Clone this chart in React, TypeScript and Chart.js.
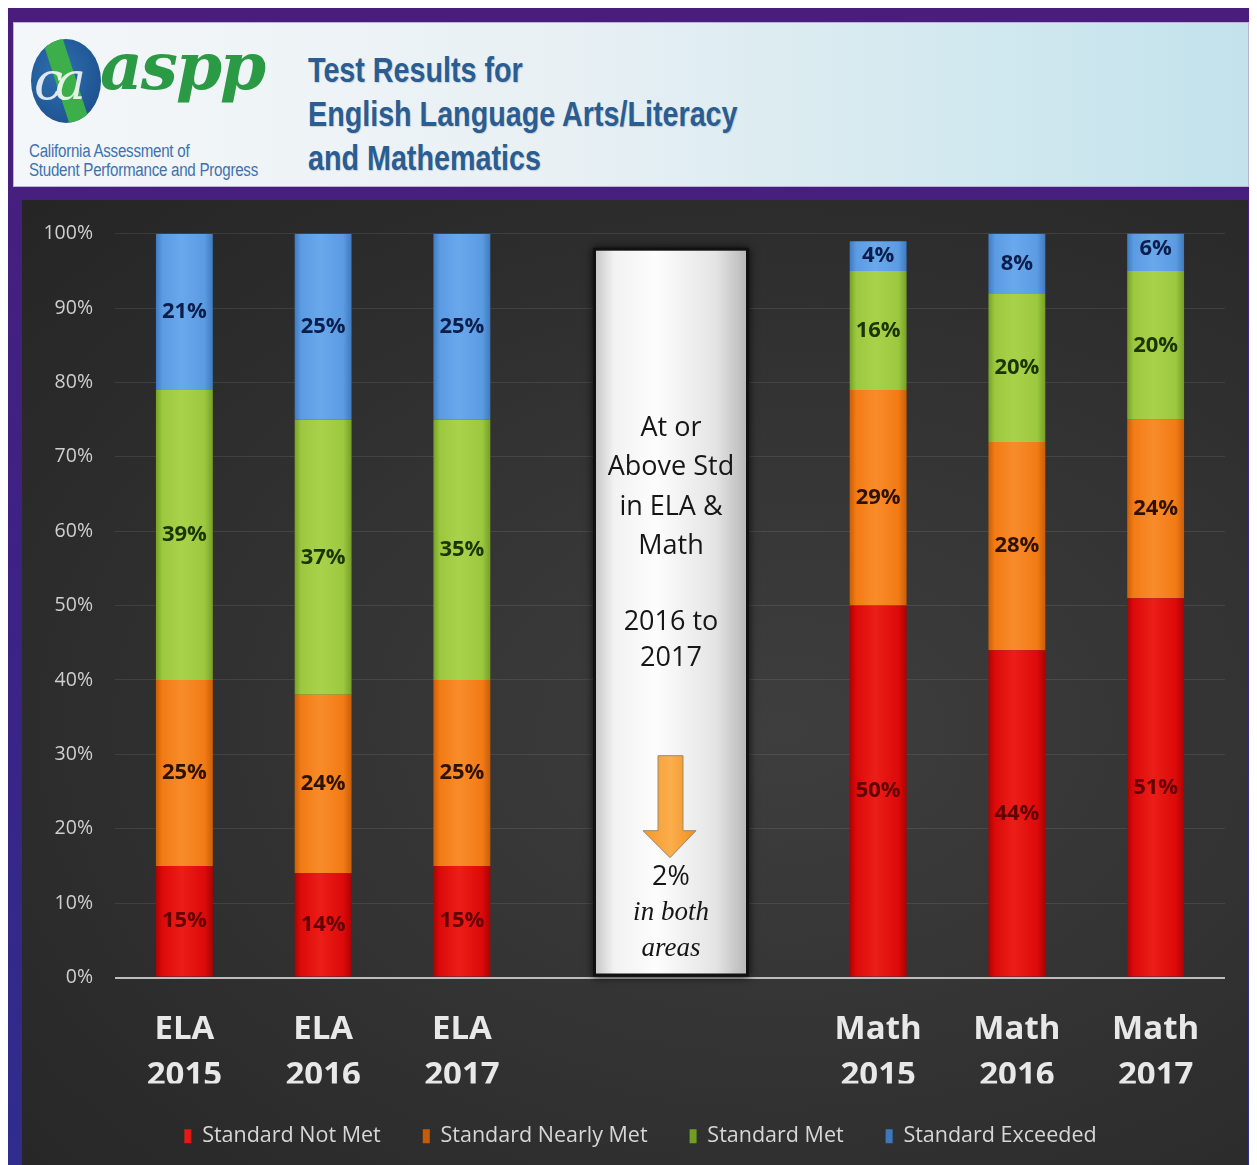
import React, { useEffect, useRef } from 'react';
import { Chart, registerables } from 'chart.js';

Chart.register(...registerables);

// ---------- data ----------
const categories: (string | string[])[] = [
  ['ELA', '2015'], ['ELA', '2016'], ['ELA', '2017'], '', '',
  ['Math', '2015'], ['Math', '2016'], ['Math', '2017'],
];
const seriesNames = ['Standard Not Met', 'Standard Nearly Met', 'Standard Met', 'Standard Exceeded'];
const notMet = [15, 14, 15, null, null, 50, 44, 51];
const nearlyMet = [25, 24, 25, null, null, 29, 28, 24];
const met = [39, 37, 35, null, null, 16, 20, 20];
const exceeded = [21, 25, 25, null, null, 4, 8, 6];
const yTickValues = [0, 10, 20, 30, 40, 50, 60, 70, 80, 90, 100];

const titleLines = ['Test Results for', 'English Language Arts/Literacy', 'and Mathematics'];
const logoSubtitle = ['California Assessment of', 'Student Performance and Progress'];
const calloutLines = ['At or', 'Above Std', 'in ELA &', 'Math'];
const calloutYears = ['2016 to', '2017'];
const calloutChange = '2%';
const calloutNote = ['in both', 'areas'];

// ---------- styles ----------
const baseColors = ['#dc0a0a', '#f27b15', '#9cc83f', '#5b9be2'];
const darkColors = ['#a80202', '#c85c06', '#739e25', '#3d78bc'];
const lightColors = ['#ec1e18', '#f88c2a', '#a8d24a', '#6aa8ec'];
const labelColors = ['#620000', '#2e1200', '#1c3400', '#0b1d4a'];

function barFill(i: number) {
  return (c: any) => {
    const base = baseColors[i];
    if (c.type !== 'data') return base;
    const chart = c.chart;
    const xs = chart.scales && chart.scales.x;
    if (!xs || !chart.chartArea) return base;
    const x = xs.getPixelForValue(c.dataIndex);
    const half = 29;
    const g = chart.ctx.createLinearGradient(x - half, 0, x + half, 0);
    g.addColorStop(0, darkColors[i]);
    g.addColorStop(0.12, base);
    g.addColorStop(0.45, lightColors[i]);
    g.addColorStop(0.85, base);
    g.addColorStop(1, darkColors[i]);
    return g;
  };
}

// let the y tick labels use the free space left of the axis box
const yLabelRoomPlugin = {
  id: 'yLabelRoom',
  afterLayout(chart: any) {
    const ys = chart.scales.y;
    if (ys) {
      ys.left = 0;
      ys.width = ys.right;
    }
  },
};

const valueLabelPlugin = {
  id: 'valueLabels',
  afterDatasetsDraw(chart: any) {
    const ctx = chart.ctx;
    ctx.save();
    ctx.font = 'bold 22px "Open Sans", sans-serif';
    ctx.textAlign = 'center';
    ctx.textBaseline = 'middle';
    chart.data.datasets.forEach((ds: any, i: number) => {
      const meta = chart.getDatasetMeta(i);
      if (meta.hidden) return;
      meta.data.forEach((bar: any, j: number) => {
        const v = ds.data[j];
        if (v == null) return;
        const p = bar.getProps(['x', 'y', 'base'], true);
        ctx.fillStyle = labelColors[i];
        ctx.fillText(v + '%', p.x, (p.y + p.base) / 2);
      });
    });
    ctx.restore();
  },
};

const calloutPlugin = {
  id: 'callout',
  beforeDatasetsDraw(chart: any) {
    const ctx = chart.ctx;
    const xs = chart.scales.x;
    const ys = chart.scales.y;
    const mid = (xs.getPixelForValue(3) + xs.getPixelForValue(4)) / 2 + 1;
    const left = mid - 75;
    const right = mid + 75;
    const top = ys.top + 17;
    const bottom = ys.getPixelForValue(0) - 4;
    ctx.save();
    ctx.shadowColor = 'rgba(0,0,0,0.85)';
    ctx.shadowBlur = 8;
    ctx.fillStyle = '#111';
    ctx.fillRect(left - 3, top - 3, right - left + 6, bottom - top + 6);
    ctx.shadowBlur = 0;
    const g = ctx.createLinearGradient(left, 0, right, 0);
    g.addColorStop(0, '#c9c9c9');
    g.addColorStop(0.12, '#f2f2f2');
    g.addColorStop(0.4, '#fdfdfd');
    g.addColorStop(0.8, '#e4e4e4');
    g.addColorStop(1, '#b9b9b9');
    ctx.fillStyle = g;
    ctx.fillRect(left, top, right - left, bottom - top);

    ctx.fillStyle = '#161616';
    ctx.textAlign = 'center';
    ctx.textBaseline = 'middle';
    ctx.font = '27px "Open Sans", sans-serif';
    const offs = [178, 217, 257, 296];
    calloutLines.forEach((t, k) => ctx.fillText(t, mid, top + offs[k]));
    const offs2 = [372, 408];
    calloutYears.forEach((t, k) => ctx.fillText(t, mid, top + offs2[k]));

    // arrow
    const aTop = top + 505;
    const shaftBot = top + 580;
    const tip = top + 607;
    const ag = ctx.createLinearGradient(mid - 26, 0, mid + 26, 0);
    ag.addColorStop(0, '#f59a2e');
    ag.addColorStop(0.5, '#fbae4c');
    ag.addColorStop(1, '#f08c1c');
    ctx.fillStyle = ag;
    ctx.strokeStyle = '#9a8a70';
    ctx.lineWidth = 1;
    ctx.beginPath();
    ctx.moveTo(mid - 13, aTop);
    ctx.lineTo(mid + 12, aTop);
    ctx.lineTo(mid + 12, shaftBot);
    ctx.lineTo(mid + 25, shaftBot);
    ctx.lineTo(mid - 1, tip);
    ctx.lineTo(mid - 28, shaftBot);
    ctx.lineTo(mid - 13, shaftBot);
    ctx.closePath();
    ctx.fill();
    ctx.stroke();

    ctx.fillStyle = '#161616';
    ctx.font = '27px "Open Sans", sans-serif';
    ctx.fillText(calloutChange, mid, top + 627);
    ctx.font = 'italic 27px "Liberation Serif", "DejaVu Serif", serif';
    ctx.fillText(calloutNote[0], mid, top + 662);
    ctx.fillText(calloutNote[1], mid, top + 698);
    ctx.restore();
  },
};

export default function App() {
  const canvasRef = useRef<HTMLCanvasElement | null>(null);

  useEffect(() => {
    if (!canvasRef.current) return;
    const seriesData = [notMet, nearlyMet, met, exceeded];
    const chart = new Chart(canvasRef.current, {
      type: 'bar',
      data: {
        labels: categories as any,
        datasets: seriesNames.map((name, i) => ({
          label: name,
          data: seriesData[i] as any,
          backgroundColor: barFill(i) as any,
          borderWidth: 0,
          barPercentage: 0.41,
          categoryPercentage: 1,
        })),
      },
      options: {
        responsive: false,
        animation: false,
        layout: { padding: { top: 33, right: 23, left: 34, bottom: 8 } },
        plugins: {
          tooltip: { enabled: false },
          legend: {
            position: 'bottom',
            labels: {
              color: '#d6d6d6',
              font: { family: '"Open Sans", sans-serif', size: 21.5 },
              boxWidth: 7,
              boxHeight: 14,
              padding: 42,
            },
          },
        },
        scales: {
          x: {
            stacked: true,
            grid: { display: false, drawTicks: false },
            border: { display: false },
            afterFit: (scale: any) => {
              scale.height = 106;
            },
            ticks: {
              color: '#e8e8e8',
              font: { family: '"Open Sans", sans-serif', size: 33, weight: 'bold', lineHeight: 1.4 },
              padding: 29,
              maxRotation: 0,
              autoSkip: false,
            },
          },
          y: {
            stacked: true,
            min: 0,
            max: 100,
            afterBuildTicks: (scale: any) => {
              scale.ticks = yTickValues.map((v) => ({ value: v }));
            },
            afterFit: (scale: any) => {
              scale.width = 59;
            },
            grid: {
              color: (c: any) => (c.tick && c.tick.value === 0 ? '#bdbdbd' : 'rgba(255,255,255,0.09)'),
              lineWidth: (c: any) => (c.tick && c.tick.value === 0 ? 2 : 1),
              drawTicks: false,
            },
            border: { display: false },
            ticks: {
              color: '#cfcfcf',
              font: { family: '"Open Sans", sans-serif', size: 19.5 },
              padding: 22,
              callback: (v: any) => v + '%',
            },
          },
        },
      },
      plugins: [yLabelRoomPlugin, calloutPlugin, valueLabelPlugin],
    });
    return () => chart.destroy();
  }, []);

  const narrow = '"Liberation Sans", Arial, sans-serif';

  return (
    <div
      style={{
        position: 'relative',
        width: 1244,
        height: 1157,
        background: 'linear-gradient(180deg, #4a1d7c 0%, #3b2385 55%, #2f2d8e 100%)',
        overflow: 'hidden',
      }}
    >
      {/* header */}
      <div
        style={{
          position: 'absolute',
          left: 5,
          top: 14,
          width: 1236,
          height: 165,
          background: 'linear-gradient(90deg, #f4f7f9 0%, #e8f0f4 45%, #d0e8ef 80%, #c3e2ec 100%)',
          border: '1px solid #b9b3d6',
          boxSizing: 'border-box',
          overflow: 'hidden',
        }}
      >
        <div
          style={{
            position: 'absolute',
            left: 17,
            top: 16,
            width: 70,
            height: 84,
            borderRadius: '50%',
            background: 'radial-gradient(ellipse at 40% 40%, #2f6fb0 0%, #1f5592 70%, #1a4a80 100%)',
            overflow: 'hidden',
          }}
        >
          <div
            style={{
              position: 'absolute',
              left: 26,
              top: -5,
              width: 20,
              height: 100,
              background: '#3cae4a',
              transform: 'rotate(-18deg)',
            }}
          />
        </div>
        <div
          style={{
            position: 'absolute',
            left: 20,
            top: 28,
            fontFamily: '"DejaVu Serif", serif',
            fontStyle: 'italic',
            fontSize: 52,
            color: '#ffffff',
            opacity: 0.85,
            letterSpacing: -8,
          }}
        >
          ca
        </div>
        <div
          style={{
            position: 'absolute',
            left: 86,
            top: 4,
            fontFamily: '"DejaVu Serif", serif',
            fontStyle: 'italic',
            fontWeight: 'bold',
            fontSize: 66,
            color: '#2b9a45',
            letterSpacing: -2,
          }}
        >
          aspp
        </div>
        <div
          style={{
            position: 'absolute',
            left: 15,
            top: 119,
            fontFamily: narrow,
            fontSize: 18,
            lineHeight: '19px',
            color: '#3d72b0',
            letterSpacing: -0.3,
            transform: 'scaleX(0.84)',
            transformOrigin: 'left top',
            whiteSpace: 'nowrap',
          }}
        >
          {logoSubtitle.map((t) => (
            <div key={t}>{t}</div>
          ))}
        </div>
        <div
          style={{
            position: 'absolute',
            left: 294,
            top: 25,
            fontFamily: narrow,
            fontWeight: 'bold',
            fontSize: 35,
            lineHeight: '44px',
            color: '#2a5d92',
            textShadow: '1px 1px 1px rgba(0,0,0,0.15)',
            transform: 'scaleX(0.82)',
            transformOrigin: 'left top',
            whiteSpace: 'nowrap',
          }}
        >
          {titleLines.map((t) => (
            <div key={t}>{t}</div>
          ))}
        </div>
      </div>
      {/* chart panel */}
      <div
        style={{
          position: 'absolute',
          left: 14,
          top: 192,
          width: 1226,
          height: 965,
          background:
            'radial-gradient(ellipse at 62% 55%, #3e3e3e 0%, #333333 45%, #2b2b2b 75%, #252525 100%)',
        }}
      >
        <canvas ref={canvasRef} width={1226} height={965} style={{ display: 'block' }} />
      </div>
    </div>
  );
}
